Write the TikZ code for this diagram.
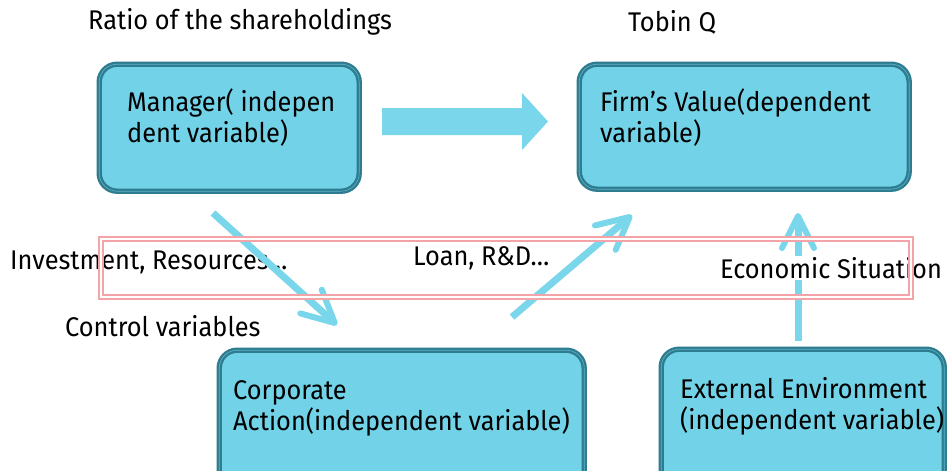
\documentclass[tikz,border=0pt]{standalone}
\usepackage{fontspec}
\setmainfont{Fira Sans}[FakeStretch=0.94]
\usetikzlibrary{arrows.meta}
\definecolor{boxfill}{HTML}{72D3E8}
\definecolor{boxedge}{HTML}{2E7C90}
\definecolor{boxinner}{HTML}{5FB2C6}
\definecolor{arrowblue}{HTML}{7AD6EA}
\definecolor{pinkedge}{HTML}{F2A4A8}
\begin{document}
\begin{tikzpicture}[x=1pt,y=-1pt,
  varbox/.style={draw=boxedge, line width=2.4pt, double=boxinner, double distance=0.6pt,
    fill=boxfill, rounded corners=18pt, anchor=north west, inner sep=0pt},
  boxtext/.style={anchor=west, align=left, inner sep=0pt, font=\fontsize{27}{31}\selectfont, text=black},
  plaintext/.style={anchor=west, inner sep=0pt, font=\fontsize{27}{31}\selectfont, text=black},
  flow/.style={draw=arrowblue, line width=7pt,
    -{Straight Barb[length=32pt, width=32pt, line width=6pt, round]}}
]
\useasboundingbox (0,0) rectangle (948,471);
\begin{scope}
\clip (0,0) rectangle (948,471);

% variable boxes
\node[varbox, minimum width=260pt, minimum height=127pt] (mgr) at (98,63) {};
\node[varbox, minimum width=330pt, minimum height=125pt] (firm) at (578,63) {};
\node[varbox, minimum width=365pt, minimum height=150pt] (corp) at (218,349) {};
\node[varbox, minimum width=283pt, minimum height=150pt] (ext) at (660,348) {};

% box captions
\node[boxtext] (mgrtext) at (127,118) {Manager( indepen\\dent variable)};
\node[boxtext] (firmtext) at (600,118) {Firm’s Value(dependent\\variable)};
\node[boxtext] (corptext) at (233,408) {Corporate\\Action(independent variable)};
\node[boxtext] (exttext) at (680,406) {External Environment\\(independent variable)};

% block arrow between manager and firm value
\fill[arrowblue] (382,108) -- (522,108) -- (522,93) -- (548,121.5) -- (522,150) -- (522,135) -- (382,135) -- cycle;

% environment arrow, partly hidden by its label
\coordinate (e1) at (798,341);
\coordinate (e2) at (798,213);
\draw[flow] (e1) -- (e2);

% labels
\node[plaintext] (ratio) at (88,22) {Ratio of the shareholdings};
\node[plaintext] (tobin) at (628,22) {Tobin Q};
\node[plaintext] (invest) at (10,262) {Investment, Resources…};
\node[plaintext] (loan) at (413,258) {Loan, R\&D…};
\node[plaintext, fill=white, inner ysep=1pt] (econ) at (720,268) {Economic Situation};
\node[plaintext] (ctrl) at (65,326) {Control variables};

% influence arrows
\coordinate (m1) at (213,213);
\coordinate (m2) at (337,325);
\coordinate (c1) at (512,317);
\coordinate (c2) at (632,215);
\draw[flow] (m1) -- (m2);
\draw[flow] (c1) -- (c2);

% band of control variables
\node[draw=pinkedge, line width=2pt, double=white, double distance=1.2pt,
      minimum width=810pt, minimum height=58pt, anchor=north west, inner sep=0pt] (band) at (100,238) {};
\end{scope}
\end{tikzpicture}
\end{document}
